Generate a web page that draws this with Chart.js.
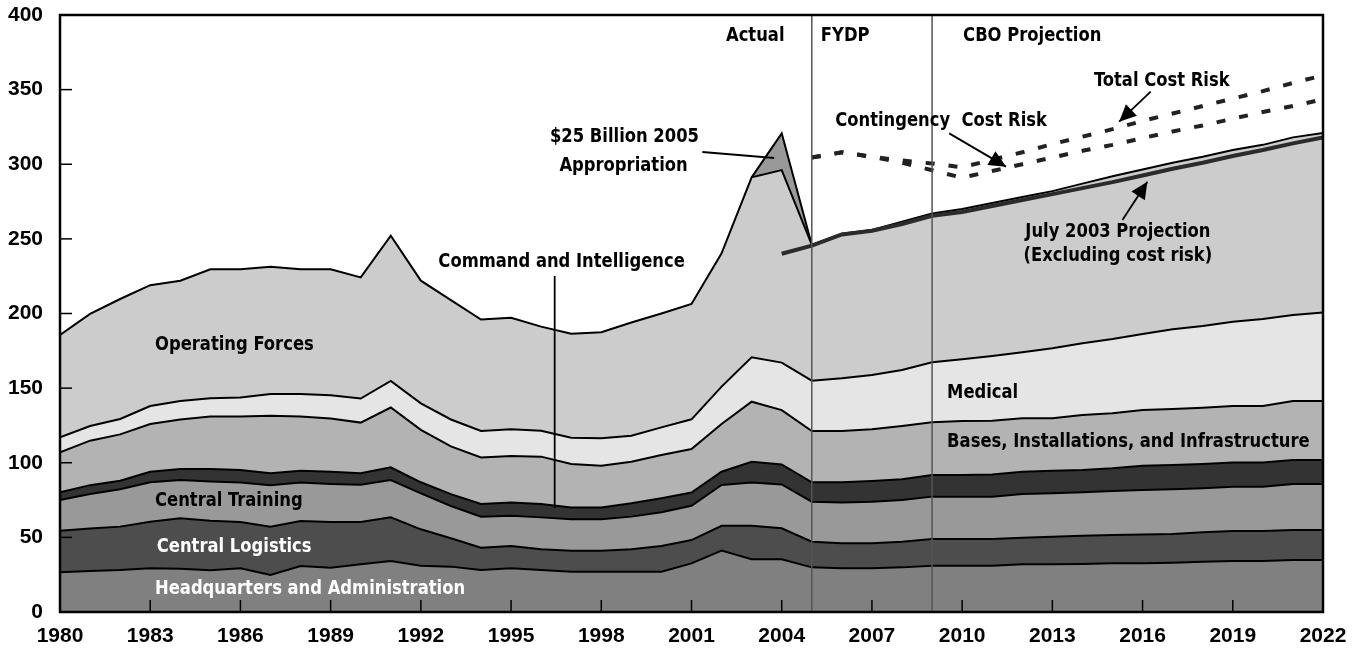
<!DOCTYPE html>
<html lang="en">
<head>
<meta charset="UTF-8">
<title>Operation and Support Costs</title>
<script src="https://cdn.jsdelivr.net/npm/chart.js@4.4.0/dist/chart.umd.min.js"></script>
<style>
  body { margin: 0; background: #fff; }
  .chart-container { position: relative; width: 1357px; height: 653px; }
</style>
</head>
<body>
<div class="chart-container"><canvas id="chart"></canvas></div>

<script>
// billions of dollars, one value per year, each layer's own thickness
const years = [1980, 1981, 1982, 1983, 1984, 1985, 1986, 1987, 1988, 1989, 1990, 1991, 1992, 1993, 1994,
  1995, 1996, 1997, 1998, 1999, 2000, 2001, 2002, 2003, 2004, 2005, 2006, 2007, 2008, 2009, 2010,
  2011, 2012, 2013, 2014, 2015, 2016, 2017, 2018, 2019, 2020, 2021, 2022];

const headquarters = [26.6, 27.5, 28.1, 29.3, 29, 28, 29.3, 24.8, 30.8, 29.7, 32, 34.2, 31, 30.4, 28.1,
  29.3, 28.1, 27, 27, 27, 27, 32.6, 41.1, 35.3, 35.3, 29.9, 29.3, 29.3, 29.9, 31, 31,
  31, 32, 32, 32.2, 32.6, 32.6, 33, 33.7, 34.2, 34.2, 34.8, 34.8];
const logistics = [27.9, 28.5, 29.1, 31.2, 33.8, 33.2, 31, 32.4, 30.2, 30.6, 28.3, 29.2, 24.4, 19, 15,
  14.9, 13.9, 14.1, 14.1, 15, 17.2, 15.6, 16.7, 22.5, 20.8, 17.2, 16.7, 16.7, 17.2, 17.9, 17.9,
  17.9, 17.8, 18.5, 18.9, 19, 19.4, 19.3, 19.7, 20.1, 20.1, 20.1, 20.1];
const training = [20.5, 23, 25, 26.4, 25.6, 26.3, 26.4, 27.8, 25.7, 25.5, 25, 25, 24.1, 21.6, 20.8,
  20.3, 21.4, 21, 21, 21.9, 22.6, 23, 27.3, 28.9, 29.4, 26.8, 27.3, 27.9, 27.9, 28.4, 28.4,
  28.4, 29.3, 29, 29.1, 29.5, 29.7, 29.9, 29.5, 29.7, 29.7, 30.9, 30.9];
const commandIntel = [5.2, 6, 5.8, 7.1, 7.4, 8.3, 8.4, 7.9, 8, 8.2, 7.6, 8.5, 7.4, 8, 8.5,
  8.8, 9, 8, 8, 8.9, 9.4, 8.8, 8.9, 14, 13.4, 13, 13.6, 13.9, 13.9, 14.5, 14.5,
  14.9, 14.9, 15.2, 14.9, 15.2, 16.3, 16.3, 16.3, 16.1, 16.1, 16, 16];
const bases = [26.8, 29.8, 31, 32, 33.2, 35.2, 35.9, 38.6, 36.3, 35.7, 34, 40.1, 35.1, 32, 31.2,
  31.2, 31.7, 29.1, 27.9, 27.9, 29, 29.2, 32, 40.2, 36.4, 34.4, 34.4, 34.6, 35.7, 35.3, 36.2,
  36, 35.8, 35.1, 36.9, 36.8, 37.3, 37.5, 37.7, 37.9, 37.9, 39.6, 39.6];
const medical = [10, 9.8, 10.3, 12, 12.4, 12.2, 12.8, 14.5, 15, 15.5, 16.1, 17.8, 17.8, 18, 17.7,
  17.9, 17.4, 17.6, 18.4, 17.4, 18.5, 19.9, 25, 29.7, 31.8, 33.7, 35.3, 36.4, 37.5, 40.2, 41.3,
  43.3, 44.2, 46.9, 48, 49.8, 51, 53.4, 54.7, 56.5, 58.3, 57.6, 59.2];
const operating = [68.6, 75.1, 80.4, 81, 80.6, 86.4, 85.8, 85.4, 83.6, 84.4, 81.2, 97.3, 82.2, 80, 74.7,
  74.8, 69.7, 69.7, 71, 75.9, 76.3, 77.3, 89.3, 120.6, 129, 91, 96.9, 97.2, 99.4, 99.7, 100.7,
  102.5, 104, 105.3, 107, 109.1, 110.2, 111.6, 113.4, 115, 116.7, 119, 120.4];
const appropriation = [null, null, null, null, null, null, null, null, null, null, null, null, null, null, null,
  null, null, null, null, null, null, null, null, 0, 24.6, 0, null, null, null, null, null,
  null, null, null, null, null, null, null, null, null, null, null, null];

// totals (not stacked)
const july2003Projection = [null, null, null, null, null, null, null, null, null, null, null, null, null, null, null,
  null, null, null, null, null, null, null, null, null, 240, 245.5, 253, 255.5, 260, 265.5, 268,
  272, 276, 280, 284, 288, 292.5, 297, 301, 305.5, 309.5, 314, 318];
const totalCostRisk = [null, null, null, null, null, null, null, null, null, null, null, null, null, null, null,
  null, null, null, null, null, null, null, null, null, null, 304.5, 308, 305, 302.5, 300.5, 298,
  303, 308, 313.5, 318.5, 323.5, 329, 334, 339, 344, 349, 354.5, 359.5];
const contingencyCostRisk = [null, null, null, null, null, null, null, null, null, null, null, null, null, null, null,
  null, null, null, null, null, null, null, null, null, null, 304.5, 308, 305, 301, 296, 291,
  295.5, 300, 304.5, 309, 313, 317.5, 322, 326, 330.5, 335, 339, 343.5];

const phaseBreaks = [2005, 2009];
const FONT = '"DejaVu Sans Condensed", "DejaVu Sans", sans-serif';
const TICK_FONT = '"Liberation Sans", Arial, sans-serif';
const SQUEEZE = 0.91; // the original type is narrower than any installed face

function pts(arr) {
  return years.map((yr, i) => ({ x: yr, y: arr[i] }));
}

function layer(label, arr, color, fill) {
  return {
    label: label, data: pts(arr), backgroundColor: color, borderColor: '#000', borderWidth: 2,
    fill: fill, pointRadius: 0, tension: 0, stack: 'cost'
  };
}

function riskLine(label, arr, stack, dash, color, width) {
  return {
    label: label, data: pts(arr), borderColor: color, borderWidth: width, borderDash: dash,
    fill: false, pointRadius: 0, tension: 0, stack: stack, order: -1
  };
}

// text, arrows and phase dividers, placed in data units
const texts = [
  ['Actual', 2003.12, 385.9, 'center', '#000'],
  ['FYDP', 2006.11, 385.9, 'center', '#000'],
  ['CBO Projection', 2012.33, 385.9, 'center', '#000'],
  ['$25 Billion 2005', 1998.77, 318.3, 'center', '#000'],
  ['Appropriation', 1998.74, 298.8, 'center', '#000'],
  ['Command and Intelligence', 1996.68, 234.5, 'center', '#000'],
  ['Operating Forces', 1983.16, 178.9, 'left', '#000'],
  ['Central Training', 1983.16, 74.4, 'left', '#000'],
  ['Central Logistics', 1983.22, 43.6, 'left', '#fff'],
  ['Headquarters and Administration', 1983.16, 15.4, 'left', '#fff'],
  ['Medical', 2009.5, 146.7, 'left', '#000'],
  ['Bases, Installations, and Infrastructure', 2009.5, 113.9, 'left', '#000'],
  ['Contingency  Cost Risk', 2005.78, 329, 'left', '#000'],
  ['Total Cost Risk', 2016.64, 355.8, 'center', '#000'],
  ['July 2003 Projection', 2015.18, 254.6, 'center', '#000'],
  ['(Excluding cost risk)', 2015.18, 238.5, 'center', '#000']
];
const pointers = [
  [2001.36, 308.2, 2003.75, 304.2, false],
  [1996.45, 225.1, 1996.45, 69.7, false],
  [2009.57, 320.7, 2011.46, 298.4, true],
  [2016.27, 348.6, 2015.22, 328.5, true],
  [2015.33, 262.6, 2016.16, 288.3, true]
];

const overlay = {
  id: 'overlay',
  afterDatasetsDraw(chart) {
    const { ctx, chartArea: a, scales: { x, y } } = chart;
    ctx.save();

    ctx.strokeStyle = '#555';
    ctx.lineWidth = 1.5;
    phaseBreaks.forEach(yr => {
      const px = x.getPixelForValue(yr);
      ctx.beginPath(); ctx.moveTo(px, a.top); ctx.lineTo(px, a.bottom); ctx.stroke();
    });

    // inner tick marks
    ctx.strokeStyle = '#000';
    ctx.lineWidth = 1.5;
    x.ticks.forEach(t => {
      const px = x.getPixelForValue(t.value);
      ctx.beginPath(); ctx.moveTo(px, a.bottom); ctx.lineTo(px, a.bottom - 12); ctx.stroke();
    });
    y.ticks.forEach(t => {
      const py = y.getPixelForValue(t.value);
      ctx.beginPath(); ctx.moveTo(a.left, py); ctx.lineTo(a.left + 12, py); ctx.stroke();
    });

    ctx.lineWidth = 2.5;
    ctx.strokeRect(a.left, a.top, a.right - a.left, a.bottom - a.top);

    // pointers
    pointers.forEach(p => {
      const x1 = x.getPixelForValue(p[0]), y1 = y.getPixelForValue(p[1]);
      const x2 = x.getPixelForValue(p[2]), y2 = y.getPixelForValue(p[3]);
      ctx.strokeStyle = '#000';
      ctx.fillStyle = '#000';
      ctx.lineWidth = 1.8;
      ctx.beginPath(); ctx.moveTo(x1, y1); ctx.lineTo(x2, y2); ctx.stroke();
      if (p[4]) {
        const ang = Math.atan2(y2 - y1, x2 - x1);
        const len = 17, half = 8;
        ctx.beginPath();
        ctx.moveTo(x2, y2);
        ctx.lineTo(x2 - len * Math.cos(ang) + half * Math.sin(ang), y2 - len * Math.sin(ang) - half * Math.cos(ang));
        ctx.lineTo(x2 - len * Math.cos(ang) - half * Math.sin(ang), y2 - len * Math.sin(ang) + half * Math.cos(ang));
        ctx.closePath();
        ctx.fill();
      }
    });

    ctx.font = 'bold 20px ' + FONT;
    ctx.textBaseline = 'middle';
    texts.forEach(t => {
      ctx.save();
      ctx.translate(x.getPixelForValue(t[1]), y.getPixelForValue(t[2]));
      ctx.scale(SQUEEZE, 1);
      ctx.fillStyle = t[4];
      ctx.textAlign = t[3];
      ctx.fillText(t[0], 0, 0);
      ctx.restore();
    });
    ctx.restore();
  }
};

let ctx = document.getElementById('chart');
var chart = new Chart(ctx, {
  type: 'line',
  data: {
    datasets: [
      layer('Headquarters and Administration', headquarters, '#808080', 'origin'),
      layer('Central Logistics', logistics, '#4d4d4d', '-1'),
      layer('Central Training', training, '#999999', '-1'),
      layer('Command and Intelligence', commandIntel, '#333333', '-1'),
      layer('Bases, Installations, and Infrastructure', bases, '#b3b3b3', '-1'),
      layer('Medical', medical, '#e5e5e5', '-1'),
      layer('Operating Forces', operating, '#cccccc', '-1'),
      layer('$25 Billion 2005 Appropriation', appropriation, '#999999', '-1'),
      riskLine('July 2003 Projection', july2003Projection, 'proj', [], '#2b2b2b', 4),
      riskLine('Total Cost Risk', totalCostRisk, 'risk1', [9, 14], '#222', 4),
      riskLine('Contingency Cost Risk', contingencyCostRisk, 'risk2', [9, 14], '#222', 4)
    ]
  },
  options: {
    responsive: true,
    maintainAspectRatio: false,
    animation: false,
    layout: { padding: { top: 15, right: 34, left: 0, bottom: 0 } },
    plugins: { legend: { display: false }, tooltip: { enabled: false } },
    scales: {
      x: {
        type: 'linear', min: 1980, max: 2022,
        grid: { color: 'transparent', drawTicks: true, tickLength: 12 },
        border: { display: false },
        ticks: {
          stepSize: 3, padding: 0, color: '#000', maxRotation: 0,
          font: { family: TICK_FONT, size: 21, weight: 'bold' },
          callback: v => String(v)
        },
        afterFit: s => { s.height = 41; }
      },
      y: {
        stacked: true, min: 0, max: 400,
        grid: { color: 'transparent', drawTicks: true, tickLength: 17 },
        border: { display: false },
        ticks: {
          stepSize: 50, padding: 0, color: '#000',
          font: { family: TICK_FONT, size: 21, weight: 'bold' }
        },
        afterFit: s => { s.width = 60; }
      }
    }
  },
  plugins: [overlay]
});
</script>
</body>
</html>
